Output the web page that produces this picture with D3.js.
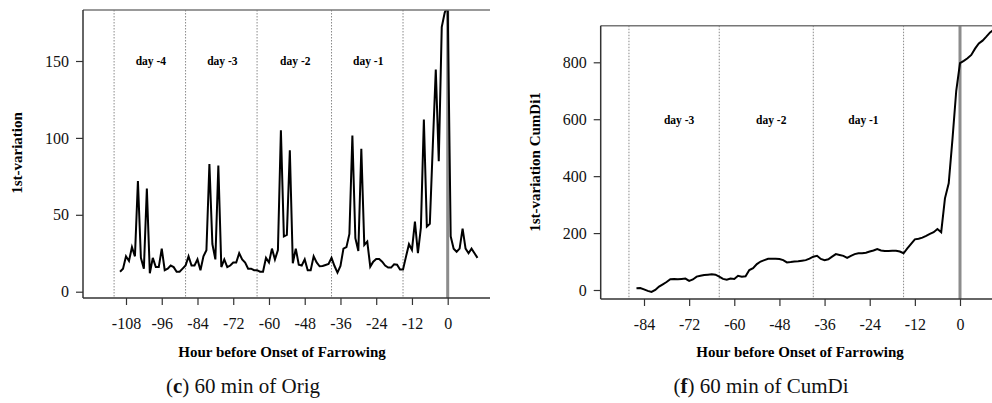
<!DOCTYPE html>
<html>
<head>
<meta charset="utf-8">
<script src="https://cdn.jsdelivr.net/npm/d3@7"></script>
<style>
  body { margin: 0; background: #fff; }
  svg { display: block; }
</style>
</head>
<body>
<svg id="chart" width="992" height="403"></svg>
<script>
// (c) 60 min of Orig : hourly values, first point at hour -110
var origStart = -110;
var origValues = [
    13, 15, 23, 20, 29, 23, 72, 22, 15, 67,
    12, 22, 16, 16, 28, 14, 15, 17, 16, 13,
    13, 15, 17, 23, 17, 17, 21, 14, 23, 27,
    83, 31, 21, 82, 16, 21, 16, 17, 19, 19,
    25, 21, 19, 15, 15, 14, 14, 13, 13, 22,
    19, 28, 21, 27,
    105, 36, 37, 92, 18.5, 28, 17.6, 17, 21, 14,
    14, 23, 19, 16.5, 16.7, 17.4, 18, 22, 16.7, 12.4,
    16.7, 28, 29, 37.6, 101.5,
    34.8, 26.5, 93, 30.4, 32.6, 16.3, 19.5, 21.2, 21.2, 19.5,
    17, 15.7, 15.7, 17.8, 17.5, 14.4, 14.4, 22.8, 30.9, 27.2,
    45.6, 25, 41.7, 112, 42.4, 44.1, 95, 144.5, 84.8, 172,
    181.5,
    186, 36, 28, 26, 28, 41, 28, 25, 28, 25, 22
];

// (f) 60 min of CumDi : hourly values, first point at hour -86
var cumStart = -86;
var cumValues = [
    6, 7, 2, -3, -7, 0, 12, 20, 28, 38,
    39, 38, 39, 40, 32, 37, 47, 50, 53, 54,
    55, 54, 47, 39, 36, 40, 39, 50, 47, 48,
    70, 77, 91, 100, 105, 110, 110, 110, 109, 105,
    97, 98, 100, 101, 103, 105, 110, 117, 120, 109,
    105, 108, 117, 126, 123, 120, 113, 120, 126, 129,
    129, 131, 135, 139, 144, 139, 137, 137, 138, 138,
    135, 129, 146, 162, 178, 180, 184, 190, 197, 203,
    214, 203, 322, 375, 530, 700, 797, 805, 814, 826,
    848, 866, 876, 890, 905, 915
];

var origXTicks = [-108, -96, -84, -72, -60, -48, -36, -24, -12, 0];
var cumXTicks = [-84, -72, -60, -48, -36, -24, -12, 0];
var origYTicks = [0, 50, 100, 150];
var cumYTicks = [0, 200, 400, 600, 800];

// day boundaries (hours) and labels
var dayBounds = [-112, -88, -64, -39, -15];
var origDays = ["day -4", "day -3", "day -2", "day -1"];
var cumDays = ["day -3", "day -2", "day -1"];

var FONT = "'Liberation Serif', 'Times New Roman', serif";
var svg = d3.select('#chart');

function toPoints(start, values) {
    return values.map(function (v, i) { return { h: start + i, v: v }; });
}

function drawPanel(p) {
    var g = svg.append('g');
    var x = p.x, y = p.y;

    g.append('clipPath').attr('id', p.id + '-clip')
        .append('rect')
        .attr('x', p.left).attr('y', p.top)
        .attr('width', p.right - p.left).attr('height', p.bottom - p.top);

    var plot = g.append('g').attr('clip-path', 'url(#' + p.id + '-clip)');

    // dotted day separators
    plot.selectAll('line.day')
        .data(p.bounds)
        .enter().append('line')
        .attr('x1', function (d) { return x(d); })
        .attr('x2', function (d) { return x(d); })
        .attr('y1', p.top).attr('y2', p.bottom)
        .attr('stroke', '#8a8a8a')
        .attr('stroke-width', 1)
        .attr('stroke-dasharray', '1.5,1.5');

    // onset line
    plot.append('line')
        .attr('x1', x(0)).attr('x2', x(0))
        .attr('y1', p.top).attr('y2', p.bottom)
        .attr('stroke', '#8c8c8c')
        .attr('stroke-width', 3);

    var line = d3.line()
        .x(function (d) { return x(d.h); })
        .y(function (d) { return y(d.v); });

    plot.append('path')
        .datum(toPoints(p.start, p.values))
        .attr('d', line)
        .attr('fill', 'none')
        .attr('stroke', '#000')
        .attr('stroke-width', 2)
        .attr('stroke-linejoin', 'miter');

    // day labels
    g.selectAll('text.day')
        .data(p.days)
        .enter().append('text')
        .attr('x', function (d, i) {
            var b = p.bounds.slice(p.bounds.length - p.days.length - 1);
            return x((b[i] + b[i + 1]) / 2) + p.dayDx;
        })
        .attr('y', p.dayY)
        .attr('text-anchor', 'middle')
        .style('font-family', FONT)
        .style('font-weight', 'bold')
        .style('font-size', '11.5px')
        .text(function (d) { return d; });

    // box: top + left + bottom
    g.append('line').attr('x1', p.left).attr('x2', p.right)
        .attr('y1', p.top).attr('y2', p.top)
        .attr('stroke', '#777').attr('stroke-width', 1.5);
    g.append('line').attr('x1', p.left).attr('x2', p.left)
        .attr('y1', p.top).attr('y2', p.bottom)
        .attr('stroke', '#333').attr('stroke-width', 1.5);
    g.append('line').attr('x1', p.left).attr('x2', p.right)
        .attr('y1', p.bottom).attr('y2', p.bottom)
        .attr('stroke', '#333').attr('stroke-width', 1.5);

    // axes
    var xAxis = d3.axisBottom(x).tickValues(p.xTicks)
        .tickSize(7).tickPadding(13)
        .tickFormat(function (d) { return String(d); });
    var ax = g.append('g').attr('transform', 'translate(0,' + p.bottom + ')').call(xAxis);
    ax.select('.domain').remove();

    var yAxis = d3.axisLeft(y).tickValues(p.yTicks)
        .tickSize(7).tickPadding(7)
        .tickFormat(function (d) { return String(d); });
    var ay = g.append('g').attr('transform', 'translate(' + p.left + ',0)').call(yAxis);
    ay.select('.domain').remove();

    [ax, ay].forEach(function (a) {
        a.selectAll('line').attr('stroke', '#333').attr('stroke-width', 1.2);
        a.selectAll('text')
            .style('font-family', FONT)
            .style('font-size', '16px')
            .attr('fill', '#111');
    });

    // axis titles
    g.append('text')
        .attr('x', p.xTitleX).attr('y', 357)
        .attr('text-anchor', 'middle')
        .style('font-family', FONT).style('font-weight', 'bold').style('font-size', '15px')
        .text('Hour before Onset of Farrowing');

    g.append('text')
        .attr('transform', 'translate(' + p.yTitleX + ',' + p.yTitleY + ') rotate(-90)')
        .attr('text-anchor', 'middle')
        .style('font-family', FONT).style('font-weight', 'bold').style('font-size', '15px')
        .text(p.yTitle);

    // caption
    var cap = g.append('text')
        .attr('x', p.capX).attr('y', 393)
        .attr('text-anchor', 'middle')
        .style('font-family', FONT).style('font-size', '21px')
        .attr('fill', '#111');
    cap.append('tspan').text('(');
    cap.append('tspan').style('font-weight', 'bold').text(p.capLetter);
    cap.append('tspan').text(') ' + p.capText);
}

drawPanel({
    id: 'orig',
    left: 83, right: 490, top: 10, bottom: 298,
    x: d3.scaleLinear().domain([-108, 0]).range([126, 447.7]),
    y: d3.scaleLinear().domain([0, 150]).range([291.7, 61]),
    start: origStart, values: origValues,
    xTicks: origXTicks, yTicks: origYTicks,
    bounds: dayBounds, days: origDays, dayY: 65, dayDx: 1,
    xTitleX: 282, yTitleX: 22, yTitleY: 153, yTitle: '1st-variation',
    capX: 243, capLetter: 'c', capText: '60 min of Orig'
});

drawPanel({
    id: 'cum',
    left: 600.7, right: 992, top: 25.7, bottom: 299,
    x: d3.scaleLinear().domain([-84, 0]).range([644, 960]),
    y: d3.scaleLinear().domain([0, 800]).range([290, 62.3]),
    start: cumStart, values: cumValues,
    xTicks: cumXTicks, yTicks: cumYTicks,
    bounds: dayBounds.slice(1), days: cumDays, dayY: 124, dayDx: 5,
    xTitleX: 800, yTitleX: 540, yTitleY: 162, yTitle: '1st-variation CumDi1',
    capX: 761, capLetter: 'f', capText: '60 min of CumDi'
});
</script>
</body>
</html>
